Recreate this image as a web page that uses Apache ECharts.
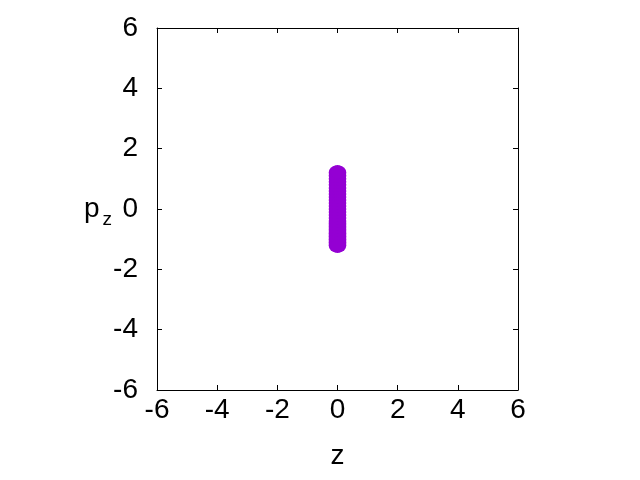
<!DOCTYPE html>
<html>
<head>
<meta charset="utf-8">
<script src="https://cdn.jsdelivr.net/npm/echarts@6/dist/echarts.min.js"></script>
<style>
  html, body { margin: 0; padding: 0; background: #fff; }
  #main { width: 640px; height: 480px; }
</style>
</head>
<body>
<div id="main"></div>
<script>
  // axis ticks
  var zTicks = [-6, -4, -2, 0, 2, 4, 6];
  var pzTicks = [-6, -4, -2, 0, 2, 4, 6];

  // phase space points (z, pz): left column, right column, and the two tips
  var pzColumn = [-1.2, -1.1, -1.0, -0.9, -0.8, -0.7, -0.6, -0.5, -0.4, -0.3, -0.2, -0.1, 0,
                  0.1, 0.2, 0.3, 0.4, 0.5, 0.6, 0.7, 0.8, 0.9, 1.0, 1.1, 1.2];
  var zLeft  = -0.06;
  var zRight = 0.06;
  var tipZ   = [0, 0];
  var tipPz  = [-1.23, 1.23];

  var points = [];
  for (var i = 0; i < pzColumn.length; i++) {
    points.push([zLeft, pzColumn[i]]);
    points.push([zRight, pzColumn[i]]);
  }
  for (var j = 0; j < tipZ.length; j++) {
    points.push([tipZ[j], tipPz[j]]);
  }

  var font = 'Liberation Sans, Arial, sans-serif';
  var labelStyle = { color: '#000', fontSize: 28, fontFamily: font };

  function mkAxis(pos, ticks, labelMargin, extra) {
    var ax = {
      type: 'value',
      position: pos,
      min: ticks[0],
      max: ticks[ticks.length - 1],
      interval: 2,
      axisLine: { show: true, onZero: false, lineStyle: { color: '#000', width: 1 } },
      axisTick: { show: true, inside: true, length: 5, lineStyle: { color: '#000' } },
      splitLine: { show: false },
      axisLabel: labelMargin != null ? Object.assign({ show: true, margin: labelMargin }, labelStyle) : { show: false }
    };
    return Object.assign(ax, extra || {});
  }

  var chart = echarts.init(document.getElementById('main'));
  chart.setOption({
    animation: false,
    backgroundColor: '#fff',
    grid: { left: 157, right: 122, top: 28, bottom: 90, show: false },
    xAxis: [
      mkAxis('bottom', zTicks, 6, {
        name: 'z', nameLocation: 'middle', nameGap: 52, nameMoveOverlap: false,
        nameTextStyle: { color: '#000', fontSize: 28, fontFamily: font }
      }),
      mkAxis('top', zTicks, null)
    ],
    yAxis: [
      mkAxis('left', pzTicks, 19, {
        name: '{p|p}{s|z}', nameLocation: 'middle', nameRotate: 0, nameGap: 45, nameMoveOverlap: false,
        nameTextStyle: {
          color: '#000', fontFamily: font, align: 'right',
          rich: {
            p: { fontSize: 28, fontFamily: font, color: '#000', verticalAlign: 'bottom' },
            s: { fontSize: 19, fontFamily: font, color: '#000', verticalAlign: 'bottom', padding: [0, 0, -6, 3] }
          }
        }
      }),
      mkAxis('right', pzTicks, null)
    ],
    series: [{
      type: 'scatter',
      data: points,
      symbol: 'circle',
      symbolSize: 14,
      itemStyle: { color: '#9400d3', opacity: 1 },
      silent: true
    }]
  });
</script>
</body>
</html>
